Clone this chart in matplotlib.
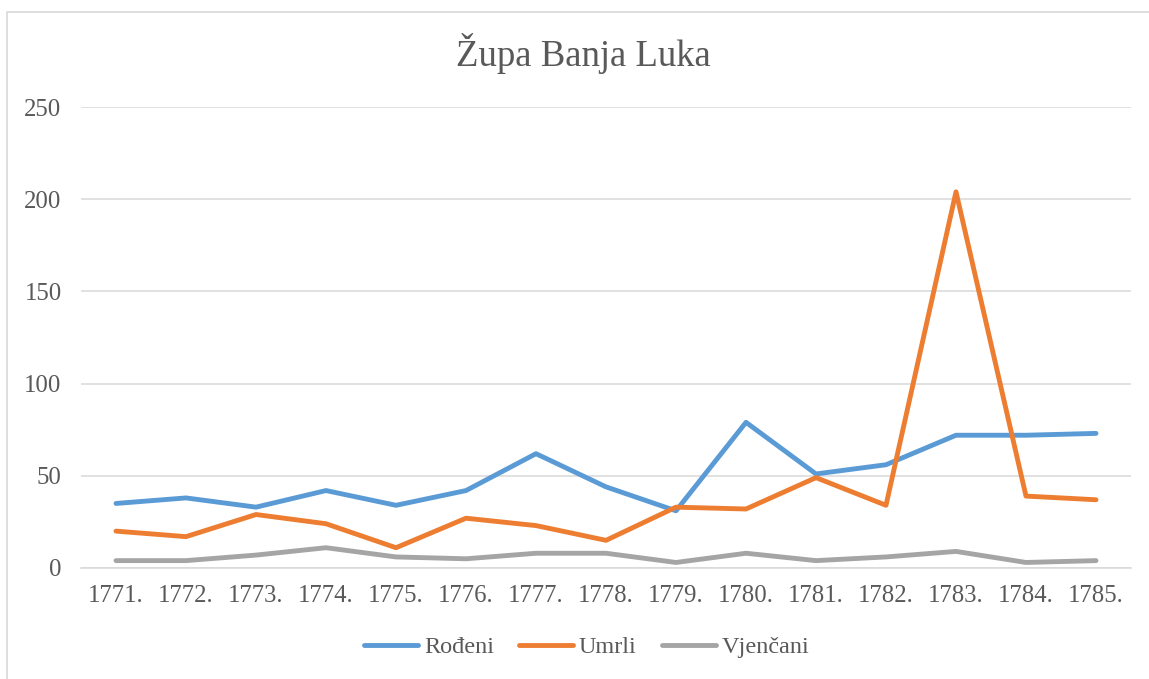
import matplotlib
matplotlib.use("Agg")
import matplotlib.pyplot as plt
from matplotlib.patches import Rectangle
from matplotlib.lines import Line2D

years = ["1771.", "1772.", "1773.", "1774.", "1775.", "1776.", "1777.", "1778.",
         "1779.", "1780.", "1781.", "1782.", "1783.", "1784.", "1785."]
rodeni = [35, 38, 33, 42, 34, 42, 62, 44, 31, 79, 51, 56, 72, 72, 73]
umrli = [20, 17, 29, 24, 11, 27, 23, 15, 33, 32, 49, 34, 204, 39, 37]
vjencani = [4, 4, 7, 11, 6, 5, 8, 8, 3, 8, 4, 6, 9, 3, 4]
series_names = ["Rođeni", "Umrli", "Vjenčani"]
colors = ["#5B9BD5", "#ED7D31", "#A5A5A5"]
yticks = [0, 50, 100, 150, 200, 250]

W, H = 1149, 679
fig = plt.figure(figsize=(W / 100, H / 100), dpi=100)
plt.rcParams['font.family'] = ['Liberation Serif', 'DejaVu Serif']
txt = "#595959"

# outer chart border (right and bottom edges fall outside the image)
fig.patches.append(Rectangle((7 / W, -0.2), 1.2, 1.2 - 12 / H, transform=fig.transFigure,
                             fill=False, edgecolor="#D9D9D9", linewidth=1.2))

left, right, top, bottom = 81, 1131, 107, 568
ax = fig.add_axes([left / W, 1 - bottom / H, (right - left) / W, (bottom - top) / H])
x = list(range(len(years)))
for vals, c, n in zip([rodeni, umrli, vjencani], colors, series_names):
    ax.plot(x, vals, color=c, linewidth=3.5, solid_capstyle="round",
            solid_joinstyle="round", label=n, zorder=3)

ax.set_xlim(-0.5, len(years) - 0.5)
ax.set_ylim(0, 250)
ax.set_yticks(yticks)
ax.set_xticks(x)
ax.set_xticklabels(years)
ax.grid(axis="y", color="#D9D9D9", linewidth=1.1, zorder=0)
for s in ["top", "right", "left"]:
    ax.spines[s].set_visible(False)
ax.spines["bottom"].set_color("#D9D9D9")
ax.spines["bottom"].set_linewidth(1.1)
ax.tick_params(axis="both", length=0, labelsize=17.8, colors=txt)
ax.tick_params(axis="y", pad=14)
ax.tick_params(axis="x", pad=12)

fig.text(583 / W, 1 - 54 / H, "Župa Banja Luka", ha="center", va="center",
         fontsize=26.5, color=txt)

handles = [Line2D([0], [0], color=c, linewidth=3.5, solid_capstyle="round") for c in colors]
fig.legend(handles, series_names, loc="center", bbox_to_anchor=(587 / W, 1 - 647 / H),
           ncol=3, frameon=False, fontsize=17.5, labelcolor=txt, handlelength=2.2,
           handletextpad=0.25, columnspacing=1.05)

fig.savefig("out.png", dpi=100)
